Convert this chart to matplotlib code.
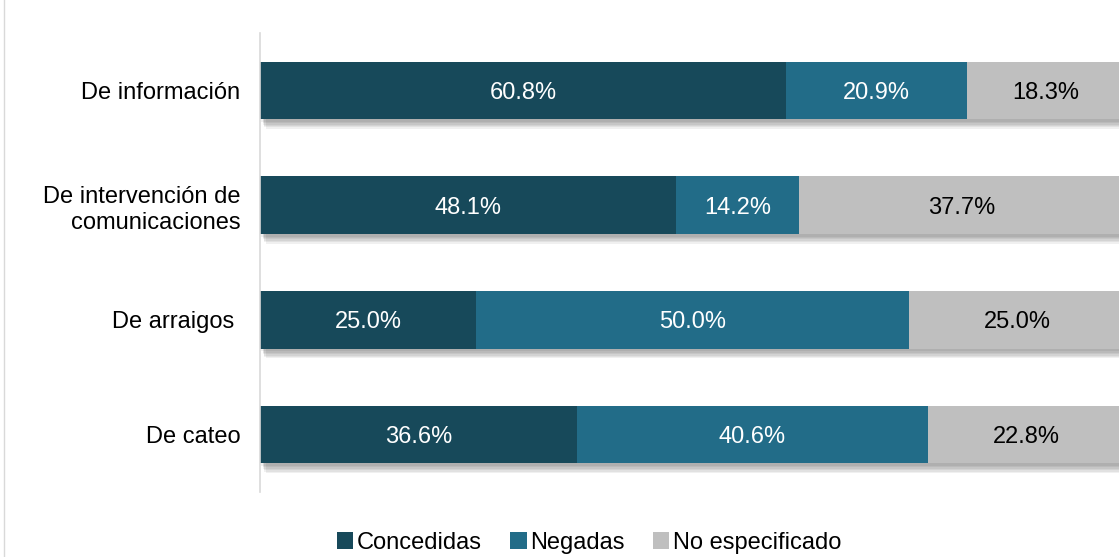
import matplotlib.pyplot as plt
import matplotlib.patheffects as pe
from matplotlib.lines import Line2D
from matplotlib.patches import Patch

plt.rcParams['font.family'] = ['Liberation Sans', 'DejaVu Sans']

categorias = ['De información', 'De intervención de\ncomunicaciones', 'De arraigos ', 'De cateo']
concedidas = [60.8, 48.1, 25.0, 36.6]
negadas = [20.9, 14.2, 50.0, 40.6]
no_especificado = [18.3, 37.7, 25.0, 22.8]
series = ['Concedidas', 'Negadas', 'No especificado']
colores = ['#17495A', '#226C88', '#BFBFBF']
color_texto = ['white', 'white', 'black']

fig = plt.figure(figsize=(11.19, 5.57), dpi=100)
ax = fig.add_axes([260 / 1119, 1 - 492 / 557, 1 - 260 / 1119, 459 / 557])

y = list(range(len(categorias)))
izq = [0] * len(categorias)
# sombra difusa: varias capas desplazadas con poca opacidad
sombra = [pe.SimplePatchShadow(offset=(dx, -dy), shadow_rgbFace='#000000', alpha=0.06)
          for dx, dy in [(1, 2), (2, 3), (2, 4), (3, 5), (3, 6), (4, 7)]] + [pe.Normal()]
for valores, color, ctexto in zip([concedidas, negadas, no_especificado], colores, color_texto):
    barras = ax.barh(y, valores, left=izq, height=0.5, color=color, edgecolor='none')
    for b in barras:
        b.set_path_effects(sombra)
    for i, v in enumerate(valores):
        ax.text(izq[i] + v / 2, y[i], f'{v:.1f}%', ha='center', va='center_baseline',
                color=ctexto, fontsize=17, zorder=5)
    izq = [a + b for a, b in zip(izq, valores)]

ax.set_xlim(0, 99.3)
ax.set_ylim(3.5, -0.5)
ax.set_yticks(y)
ax.set_yticklabels(categorias, fontsize=17, linespacing=1.25)
ax.tick_params(axis='y', length=0, pad=14)
ax.set_xticks([])
for s in ['top', 'right', 'bottom']:
    ax.spines[s].set_visible(False)
ax.spines['left'].set_color('#D9D9D9')
ax.spines['left'].set_linewidth(1.2)

# borde izquierdo del recuadro
fig.add_artist(Line2D([4 / 1119, 4 / 1119], [0, 1], color='#D9D9D9', lw=1))

handles = [Patch(facecolor=c, edgecolor='none') for c in colores]
fig.legend(handles, series, loc='center', bbox_to_anchor=(589 / 1119, 1 - 543 / 557),
           ncol=3, frameon=False, fontsize=17, handlelength=0.7, handleheight=0.7,
           handletextpad=0.15, columnspacing=1.2)

fig.savefig('out.png', dpi=100)
